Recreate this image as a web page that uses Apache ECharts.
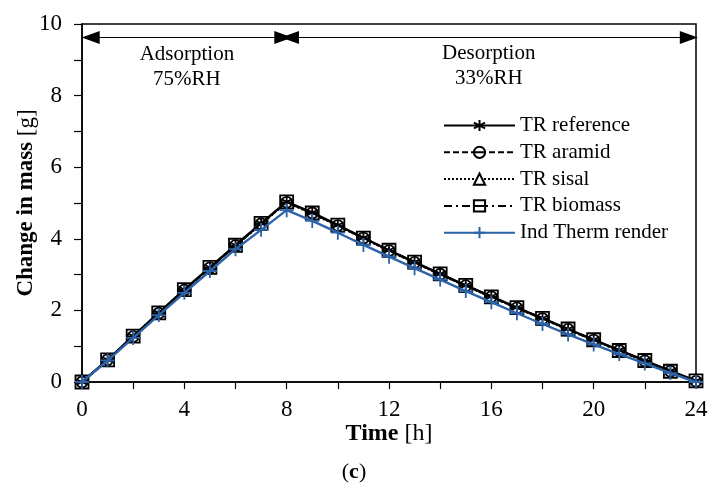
<!DOCTYPE html>
<html>
<head>
<meta charset="utf-8">
<script src="https://cdn.jsdelivr.net/npm/echarts@6/dist/echarts.min.js"></script>
<style>html,body{margin:0;padding:0;background:#fff}#c{width:708px;height:491px}</style>
</head>
<body>
<div id="c"></div>
<script>
var hours = [0,1,2,3,4,5,6,7,8,9,10,11,12,13,14,15,16,17,18,19,20,21,22,23,24];
var trReference = [0,0.62,1.28,1.93,2.58,3.2,3.82,4.43,5.03,4.73,4.38,4.03,3.68,3.35,3.02,2.7,2.39,2.08,1.78,1.48,1.18,0.89,0.6,0.31,0.03];
var trAramid    = [0,0.62,1.27,1.92,2.57,3.19,3.81,4.42,5.02,4.72,4.37,4.02,3.67,3.34,3.01,2.69,2.38,2.07,1.77,1.47,1.17,0.88,0.59,0.3,0.02];
var trSisal     = [0,0.61,1.27,1.92,2.57,3.19,3.8,4.41,5.01,4.7,4.36,4.01,3.66,3.33,3.0,2.68,2.37,2.06,1.76,1.46,1.16,0.87,0.58,0.29,0.02];
var trBiomass   = [0,0.62,1.28,1.93,2.58,3.2,3.82,4.43,5.03,4.72,4.38,4.02,3.68,3.35,3.02,2.7,2.38,2.08,1.78,1.48,1.18,0.88,0.6,0.3,0.03];
var indTherm    = [0,0.6,1.23,1.87,2.49,3.1,3.71,4.25,4.8,4.5,4.17,3.83,3.5,3.18,2.86,2.54,2.23,1.92,1.62,1.33,1.05,0.78,0.52,0.25,0];
var seriesNames = ['TR reference','TR aramid','TR sisal','TR biomass','Ind Therm render'];
var xTicks = [0,4,8,12,16,20,24];
var yTicks = [0,2,4,6,8,10];
var phaseArrows = [[0.34,7.87],[8.13,23.72]];
var arrowY = 9.62;
var phaseLabels = [{x:4.1,y:8.79,text:'Adsorption\n75%RH'},{x:15.9,y:8.84,text:'Desorption\n33%RH'}];

function pairs(arr){ return hours.map(function(h,i){ return [h, arr[i]]; }); }

var FONT = '"Liberation Serif","Times New Roman",serif';
var BLUE = '#2b62a8';

var chart = echarts.init(document.getElementById('c'), null, {renderer:'canvas'});
var blackItem = {color:'#fff', borderColor:'#000', borderWidth:1.8};

var option = {
  animation:false,
  textStyle:{fontFamily:FONT},
  grid:{left:82, right:12, top:24, bottom:109, show:true, borderColor:'#000', borderWidth:1.5,
        containLabel:false, outerBoundsMode:'none'},
  legend:{
    orient:'vertical', left:438, top:110, itemWidth:71, itemHeight:14, itemGap:5.8,
    data:seriesNames,
    textStyle:{fontFamily:FONT, fontSize:21, color:'#000'}
  },
  xAxis:{
    type:'value', min:0, max:24, interval:2,
    name:'{b|Time} [h]', nameLocation:'middle', nameGap:40, nameMoveOverlap:false,
    nameTextStyle:{fontFamily:FONT, fontSize:24, color:'#000', rich:{b:{fontWeight:'bold', fontFamily:FONT, fontSize:24}}},
    axisLine:{lineStyle:{color:'#000', width:1.5}},
    axisTick:{show:true, inside:false, length:7, lineStyle:{color:'#000', width:1.2}},
    axisLabel:{fontFamily:FONT, fontSize:23, color:'#000', margin:16,
      formatter:function(v){ return xTicks.indexOf(v)>=0 ? String(v) : ''; }},
    splitLine:{show:false}
  },
  yAxis:{
    type:'value', min:0, max:10, interval:1,
    name:'{b|Change in mass} [g]', nameLocation:'middle', nameGap:44, nameRotate:90, nameMoveOverlap:false,
    nameTextStyle:{fontFamily:FONT, fontSize:23, color:'#000', rich:{b:{fontWeight:'bold', fontFamily:FONT, fontSize:23}}},
    axisLine:{show:true, lineStyle:{color:'#000', width:1.5}},
    axisTick:{show:true, inside:false, length:8, lineStyle:{color:'#000', width:1.2}},
    axisLabel:{fontFamily:FONT, fontSize:23, color:'#000', margin:20,
      formatter:function(v){ return yTicks.indexOf(v)>=0 ? String(v) : ''; }},
    splitLine:{show:false}
  },
  series:[
    {name:seriesNames[0], type:'line', data:pairs(trReference), z:5,
     symbol:'path://M0,-5L0,5M-4.3,-2.5L4.3,2.5M-4.3,2.5L4.3,-2.5', symbolSize:11,
     lineStyle:{color:'#000', width:2.4, type:'solid'},
     itemStyle:{color:'#000', borderColor:'#000', borderWidth:1.8}},
    {name:seriesNames[1], type:'line', data:pairs(trAramid), z:4,
     symbol:'path://M-5,0A5,5 0 1,1 5,0A5,5 0 1,1 -5,0ZM-5,0L5,0', symbolSize:11,
     lineStyle:{color:'#000', width:2, type:[6,3]},
     itemStyle:blackItem},
    {name:seriesNames[2], type:'line', data:pairs(trSisal), z:3,
     symbol:'triangle', symbolSize:11,
     lineStyle:{color:'#000', width:2, type:[2,2]},
     itemStyle:blackItem},
    {name:seriesNames[3], type:'line', data:pairs(trBiomass), z:3,
     symbol:'path://M-5,-5L5,-5L5,5L-5,5ZM-5,0L5,0', symbolSize:13,
     lineStyle:{color:'#000', width:2, type:[8,4,2,4]},
     itemStyle:blackItem},
    {name:seriesNames[4], type:'line', data:pairs(indTherm), z:6,
     symbol:'path://M0,-6L0,6M-6,0L6,0', symbolSize:14,
     lineStyle:{color:BLUE, width:2.4},
     itemStyle:{color:BLUE, borderColor:BLUE, borderWidth:1.8}},
    {name:'annot', type:'line', data:[], silent:true,
     markLine:{silent:true, symbol:['triangle','triangle'], symbolSize:[13,18],
       lineStyle:{color:'#000', width:1.2, type:'solid'}, label:{show:false},
       data:phaseArrows.map(function(a){ return [{coord:[a[0],arrowY], symbolRotate:90},{coord:[a[1],arrowY], symbolRotate:-90}]; })},
     markPoint:{silent:true, symbol:'circle', symbolSize:0,
       label:{show:true, position:'inside', fontFamily:FONT, fontSize:21, color:'#000', lineHeight:25, align:'center'},
       data:phaseLabels.map(function(p){ return {coord:[p.x,p.y], value:p.text, label:{formatter:p.text}}; })}
    }
  ],
  graphic:[
    {type:'text', left:'center', top:461,
     style:{text:'({b|c})', font:'22px '+FONT, fill:'#000',
       rich:{b:{fontWeight:'bold', fontFamily:FONT, fontSize:22}}}}
  ]
};
chart.setOption(option);
</script>
</body>
</html>
